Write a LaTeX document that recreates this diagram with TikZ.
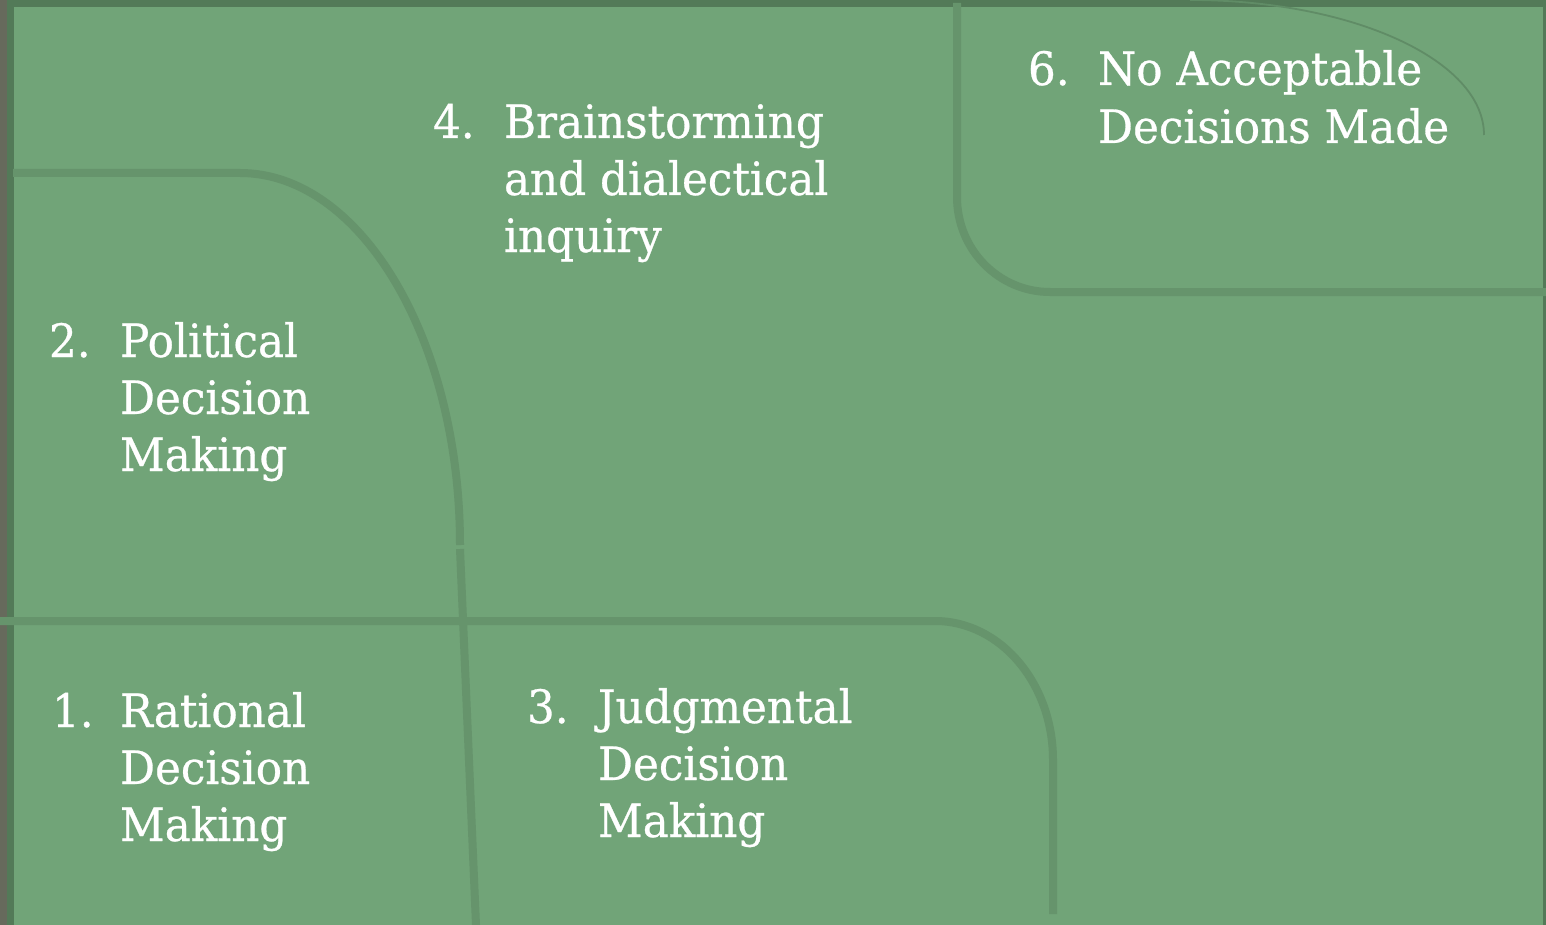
\documentclass[tikz,border=0pt]{standalone}
\usepackage{fontspec}
\setmainfont{DejaVu Serif}[FakeStretch=0.95,FakeBold=0.6]
\definecolor{bgfill}{RGB}{113,164,120}
\definecolor{linegreen}{RGB}{102,148,108}
\definecolor{arcgreen}{RGB}{96,140,102}
\definecolor{bordergreen}{RGB}{83,122,88}
\definecolor{stripgray}{RGB}{102,106,92}
\tikzset{
  guide/.style={draw=linegreen,line width=8pt},
  thinarc/.style={draw=arcgreen,line width=1.8pt},
  txt/.style={text=white,font=\fontsize{46}{55}\selectfont,anchor=base west,inner sep=0pt,outer sep=0pt},
}
\begin{document}
\begin{tikzpicture}[x=1pt,y=-1pt]
\useasboundingbox (0,0) rectangle (1546,925);
% background and frame
\fill[bgfill] (0,0) rectangle (1546,925);
\fill[stripgray] (0,0) rectangle (7,925);
\fill[bordergreen] (7,0) rectangle (14,925);
\fill[bordergreen] (7,0) rectangle (1546,7);
\fill[bordergreen] (1543,0) rectangle (1546,925);
% guide lines
\coordinate (a1) at (13,173);
\coordinate (a2) at (240,173);
\coordinate (a3) at (460,545);
\coordinate (a4) at (460,549);
\coordinate (a5) at (476,925);
\draw[guide] (a1) -- (a2) .. controls (361,173) and (460,340) .. (a3);
\draw[guide] (a4) -- (a5);
\coordinate (b1) at (0,621);
\coordinate (b2) at (935,621);
\coordinate (b3) at (1053,760);
\coordinate (b4) at (1053,914);
\draw[guide] (b1) -- (b2) .. controls (1000,621) and (1053,683) .. (b3) -- (b4);
\coordinate (c1) at (957,3);
\coordinate (c2) at (957,197);
\coordinate (c3) at (1050,292);
\coordinate (c4) at (1546,292);
\draw[guide] (c1) -- (c2) .. controls (957,250) and (999,292) .. (c3) -- (c4);
\coordinate (d1) at (1190,0);
\coordinate (d2) at (1484,135);
\draw[thinarc] (d1) .. controls (1352,0) and (1484,60) .. (d2);
% texts
\node[txt] (n4) at (433,138) {4.};
\node[txt] (t4a) at (504,138) {Brainstorming};
\node[txt] (t4b) at (504,195) {and dialectical};
\node[txt] (t4c) at (504,252) {inquiry};
\node[txt] (n6) at (1028,85) {6.};
\node[txt] (t6a) at (1098,85) {No Acceptable};
\node[txt] (t6b) at (1098,143) {Decisions Made};
\node[txt] (n2) at (49,357) {2.};
\node[txt] (t2a) at (120,357) {Political};
\node[txt] (t2b) at (120,414) {Decision};
\node[txt] (t2c) at (120,471) {Making};
\node[txt] (n1) at (52,727) {1.};
\node[txt] (t1a) at (120,727) {Rational};
\node[txt] (t1b) at (120,784) {Decision};
\node[txt] (t1c) at (120,841) {Making};
\node[txt] (n3) at (527,723) {3.};
\node[txt] (t3a) at (598,723) {Judgmental};
\node[txt] (t3b) at (598,780) {Decision};
\node[txt] (t3c) at (598,837) {Making};
\end{tikzpicture}
\end{document}
